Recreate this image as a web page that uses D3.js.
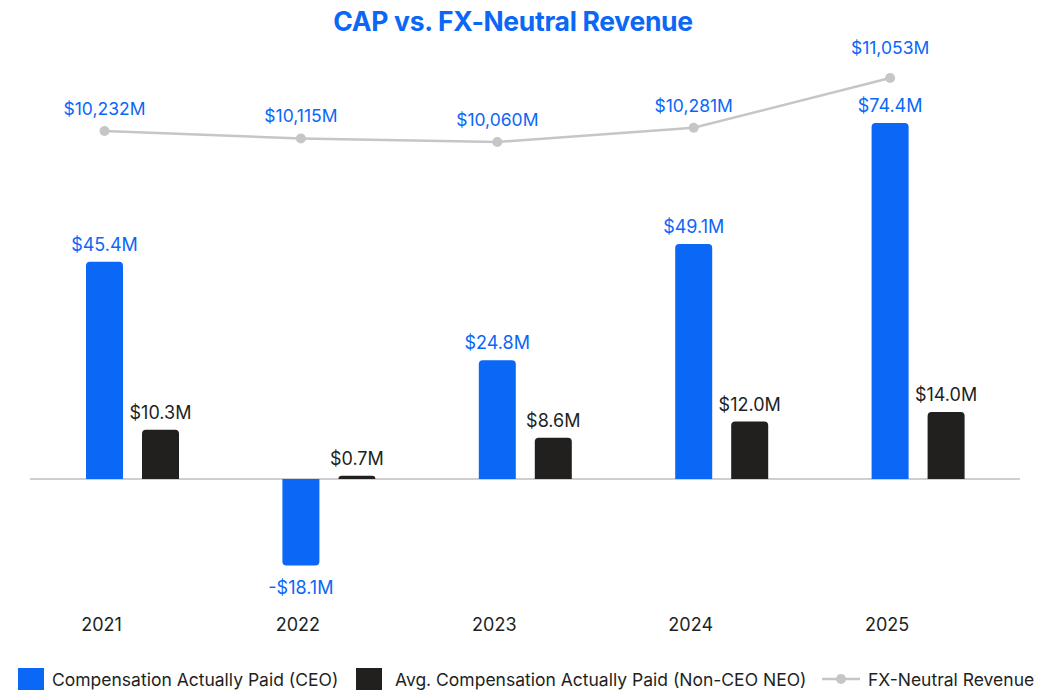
<!DOCTYPE html>
<html>
<head>
<meta charset="utf-8">
<script src="https://cdn.jsdelivr.net/npm/d3@7"></script>
<style>
  body { margin: 0; background: #fff; }
  svg { font-family: Inter, "Noto Sans", sans-serif; }
</style>
</head>
<body>
<div id="chart"></div>
<script>
// Data
const years     = ["2021", "2022", "2023", "2024", "2025"];
const ceoCap    = [45.4, -18.1, 24.8, 49.1, 74.4];
const neoCap    = [10.3, 0.7, 8.6, 12.0, 14.0];
const revenue   = [10232, 10115, 10060, 10281, 11053];
const seriesNames = ["Compensation Actually Paid (CEO)", "Avg. Compensation Actually Paid (Non-CEO NEO)", "FX-Neutral Revenue"];

const width = 1043, height = 690;
const blue = "#0b67f6", dark = "#221f1f", grey = "#c6c6c6";

const svg = d3.select("#chart").append("svg")
    .attr("width", width)
    .attr("height", height);

const x = d3.scaleBand().domain(years).range([35, 1017]);
// left edge of a bar inside its band
const bx = (yr, k) => x(yr) - x(years[0]) + 86 + (k === "ceo" ? 0 : 56);
const barW = 37;

const y = d3.scaleLinear().domain([0, 74.4]).range([479, 123]);
const yRev = d3.scaleLinear().domain([10060, 11053]).range([142, 78]);

// title
svg.append("text")
    .attr("x", 513).attr("y", 31)
    .attr("text-anchor", "middle")
    .attr("fill", blue)
    .attr("font-size", 26.5).attr("font-weight", 700)
    .attr("letter-spacing", -0.3)
    .text("CAP vs. FX-Neutral Revenue");

// zero line
svg.append("line")
    .attr("x1", 30).attr("x2", 1020)
    .attr("y1", y(0)).attr("y2", y(0))
    .attr("stroke", "#cfcfcf").attr("stroke-width", 2);

const r = 4;
function barPath(x0, w, v) {
    const y0 = y(0), y1 = y(v);
    const h = Math.abs(y1 - y0);
    const rr = Math.min(r, h);
    if (v >= 0) {
        return `M${x0},${y0}V${y1 + rr}Q${x0},${y1} ${x0 + rr},${y1}H${x0 + w - rr}Q${x0 + w},${y1} ${x0 + w},${y1 + rr}V${y0}Z`;
    }
    return `M${x0},${y0}V${y1 - rr}Q${x0},${y1} ${x0 + rr},${y1}H${x0 + w - rr}Q${x0 + w},${y1} ${x0 + w},${y1 - rr}V${y0}Z`;
}

const bars = years.map((yr, i) => ({yr, ceo: ceoCap[i], neo: neoCap[i], rev: revenue[i]}));

const g = svg.append("g");

g.selectAll(".ceo").data(bars).join("path")
    .attr("class", "ceo")
    .attr("fill", blue)
    .attr("d", d => barPath(bx(d.yr, "ceo"), barW, d.ceo));

g.selectAll(".neo").data(bars).join("path")
    .attr("class", "neo")
    .attr("fill", dark)
    .attr("d", d => barPath(bx(d.yr, "neo"), barW, d.neo));

const fmt = v => (v < 0 ? "-$" : "$") + Math.abs(v).toFixed(1) + "M";

g.selectAll(".ceo-lbl").data(bars).join("text")
    .attr("class", "ceo-lbl")
    .attr("x", d => bx(d.yr, "ceo") + barW / 2)
    .attr("y", d => d.ceo >= 0 ? y(d.ceo) - 11 : y(d.ceo) + 28)
    .attr("text-anchor", "middle")
    .attr("fill", blue).attr("font-size", 18)
    .text(d => fmt(d.ceo));

g.selectAll(".neo-lbl").data(bars).join("text")
    .attr("class", "neo-lbl")
    .attr("x", d => bx(d.yr, "neo") + barW / 2)
    .attr("y", d => y(d.neo) - 11)
    .attr("text-anchor", "middle")
    .attr("fill", dark).attr("font-size", 18)
    .text(d => fmt(d.neo));

// revenue line
const lx = d => bx(d.yr, "ceo") + barW / 2;
g.append("path")
    .datum(bars)
    .attr("fill", "none")
    .attr("stroke", grey).attr("stroke-width", 2.5)
    .attr("d", d3.line().x(lx).y(d => yRev(d.rev)));

g.selectAll(".rev-dot").data(bars).join("circle")
    .attr("class", "rev-dot")
    .attr("cx", lx).attr("cy", d => yRev(d.rev))
    .attr("r", 5).attr("fill", grey);

// label gap grows a little where the line climbs steeply
g.selectAll(".rev-lbl").data(bars).join("text")
    .attr("class", "rev-lbl")
    .attr("x", lx)
    .attr("y", (d, i) => yRev(d.rev) - (i === bars.length - 1 ? 24 : 16))
    .attr("text-anchor", "middle")
    .attr("fill", blue).attr("font-size", 17.5)
    .text(d => "$" + d3.format(",")(d.rev) + "M");

// year labels
g.selectAll(".yr").data(bars).join("text")
    .attr("class", "yr")
    .attr("x", d => bx(d.yr, "ceo") + barW / 2 - 3)
    .attr("y", 631)
    .attr("text-anchor", "middle")
    .attr("fill", dark).attr("font-size", 18)
    .text(d => d.yr);

// legend
const leg = svg.append("g").attr("font-size", 17.5).attr("fill", dark);
leg.append("rect").attr("x", 18).attr("y", 668).attr("width", 26).attr("height", 22).attr("fill", blue);
leg.append("text").attr("x", 52).attr("y", 686).text(seriesNames[0]);
leg.append("rect").attr("x", 356).attr("y", 668).attr("width", 26).attr("height", 22).attr("fill", dark);
leg.append("text").attr("x", 395).attr("y", 686).text(seriesNames[1]);
leg.append("line").attr("x1", 822).attr("x2", 860).attr("y1", 679).attr("y2", 679)
    .attr("stroke", grey).attr("stroke-width", 2.5);
leg.append("circle").attr("cx", 841).attr("cy", 679).attr("r", 5).attr("fill", grey);
leg.append("text").attr("x", 868).attr("y", 686).text(seriesNames[2]);
</script>
</body>
</html>
